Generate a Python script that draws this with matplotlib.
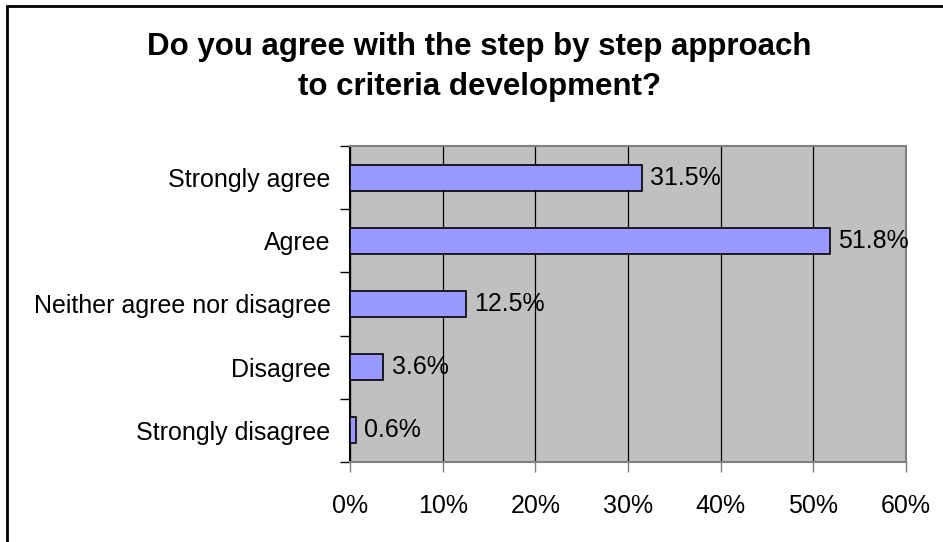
import matplotlib.pyplot as plt
from matplotlib.patches import Rectangle

categories = ["Strongly agree", "Agree", "Neither agree nor disagree",
              "Disagree", "Strongly disagree"]
values = [31.5, 51.8, 12.5, 3.6, 0.6]
xticks = [0, 10, 20, 30, 40, 50, 60]
title_lines = ["Do you agree with the step by step approach",
               "to criteria development?"]

plt.rcParams['font.family'] = ['Liberation Sans', 'DejaVu Sans']

W, H = 943, 542
fig = plt.figure(figsize=(W / 100, H / 100), dpi=100)
ax = fig.add_axes([350 / W, 80 / H, 556 / W, 316 / H])

# chart frame (only top/left edges fall inside the canvas)
fig.patches.append(Rectangle((7 / W, -0.1), 1.2, 1.1 - 6 / H,
                             transform=fig.transFigure, fill=False,
                             edgecolor='black', linewidth=2, zorder=0))

ax.set_facecolor('#C0C0C0')
ypos = list(range(len(categories)))
ax.barh(ypos, values, height=0.41, color='#9999FF', edgecolor='black',
        linewidth=1.2, zorder=3)
for y, v in zip(ypos, values):
    ax.annotate(f"{v:.1f}%", (v, y), xytext=(6, 0), textcoords='offset points',
                va='center', ha='left', fontsize=18, zorder=4)

ax.set_xlim(0, 60)
ax.set_ylim(len(categories) - 0.5, -0.5)
ax.set_xticks(xticks)
ax.set_xticklabels([f"{t}%" for t in xticks], fontsize=18)
ax.xaxis.grid(True, color='black', linewidth=0.9, zorder=1)
ax.set_axisbelow(True)

ax.set_yticks(ypos)
ax.set_yticklabels(categories, fontsize=18)
ax.tick_params(axis='y', length=0, pad=14)
ax.set_yticks([i - 0.5 for i in range(len(categories) + 1)], minor=True)
ax.tick_params(axis='y', which='minor', length=7, width=1, color='black',
               direction='out')
ax.tick_params(axis='x', length=7, width=1, color='#808080', pad=16)

for side in ['top', 'right', 'bottom']:
    ax.spines[side].set_color('#808080')
    ax.spines[side].set_linewidth(1.5)
ax.spines['left'].set_color('black')
ax.spines['left'].set_linewidth(1.5)

for line, base in zip(title_lines, [55, 95]):
    fig.text(479 / W, 1 - base / H, line, ha='center', va='baseline',
             fontsize=22.5, fontweight='bold')

fig.savefig('out.png', dpi=100)
